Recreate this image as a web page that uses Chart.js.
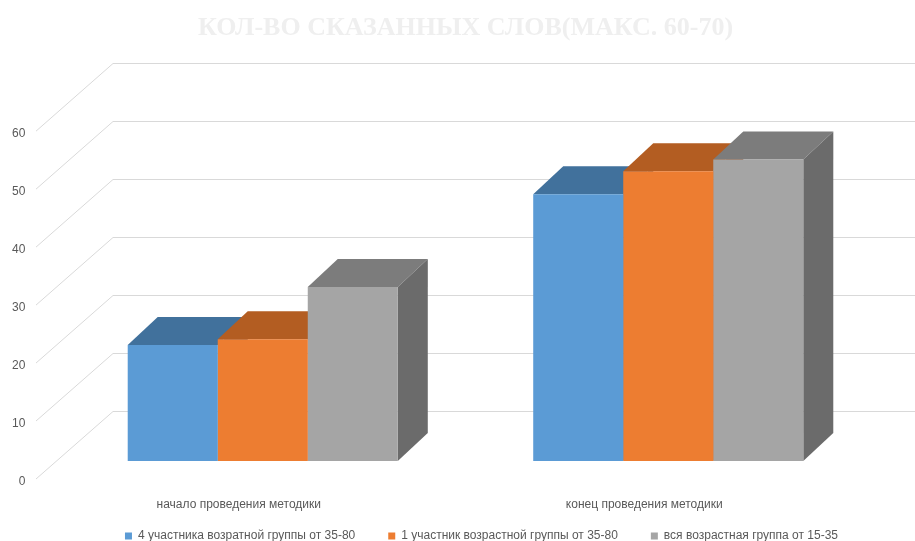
<!DOCTYPE html>
<html lang="ru">
<head>
<meta charset="utf-8">
<title>Кол-во сказанных слов</title>
<script src="https://cdn.jsdelivr.net/npm/chart.js@4.4.1/dist/chart.umd.min.js"></script>
<style>
  html, body { margin: 0; padding: 0; background: #ffffff; }
  #wrap { width: 915px; height: 541px; }
</style>
</head>
<body>
<div id="wrap"><canvas id="chart" width="915" height="541"></canvas></div>
<script>
// Data
const categories = ['начало проведения методики', 'конец проведения методики'];
const seriesNames = [
  '4 участника возратной группы от 35-80',
  '1 участник возрастной группы от 35-80',
  'вся возрастная группа от 15-35'
];
const group4of35to80 = [20, 46];
const one35to80 = [21, 50];
const whole15to35 = [30, 52];
const yTickValues = [0, 10, 20, 30, 40, 50, 60];
const yMax = 70;

// Styling
const frontColors = ['#5b9bd5', '#ed7d31', '#a5a5a5'];
const topColors   = ['#41719c', '#b35d22', '#7c7c7c'];
const sideColors  = ['#3a6791', '#a4531d', '#6b6b6b'];
const DEPTH_X = 30, DEPTH_Y = 28;      // bar extrusion
const LABEL_SHIFT = 20;                // front edge of the side wall, below bar plane
const WALL_SHIFT = 50;                 // back wall, above bar plane
const WALL_X_FRONT = -24, WALL_X_BACK = 53;
const LEGEND_DROP = 11;
const textGray = '#595959';
const sansFont = '"Liberation Sans", Arial, sans-serif';

const depthPlugin = {
  id: 'depth3d',
  afterLayout(chart) {
    // category labels hang below the floor edge; legend sits at the very bottom
    chart.scales.x.bottom = chart.height;
    chart.legend.top += LEGEND_DROP;
    chart.legend.bottom += LEGEND_DROP;
  },
  beforeDatasetsDraw(chart) {
    const { ctx, chartArea } = chart;
    const y = chart.scales.y;
    ctx.save();
    // gridlines: diagonal across the side wall, then along the back wall
    ctx.strokeStyle = '#d9d9d9';
    ctx.lineWidth = 1;
    yTickValues.forEach(v => {
      const p = y.getPixelForValue(v);
      const fy = p + LABEL_SHIFT - 2;
      const by = Math.round(p - WALL_SHIFT) + 0.5;
      ctx.beginPath();
      ctx.moveTo(chartArea.left + WALL_X_FRONT, fy);
      ctx.lineTo(chartArea.left + WALL_X_BACK, by);
      ctx.lineTo(chart.width, by);
      ctx.stroke();
    });
    // top and side faces of each bar
    chart.data.datasets.forEach((ds, i) => {
      const meta = chart.getDatasetMeta(i);
      meta.data.forEach(bar => {
        const { x, y: top, base, width } = bar.getProps(['x', 'y', 'base', 'width'], true);
        const l = x - width / 2, r = x + width / 2;
        ctx.fillStyle = topColors[i];
        ctx.beginPath();
        ctx.moveTo(l, top);
        ctx.lineTo(l + DEPTH_X, top - DEPTH_Y);
        ctx.lineTo(r + DEPTH_X, top - DEPTH_Y);
        ctx.lineTo(r, top);
        ctx.closePath();
        ctx.fill();
        ctx.fillStyle = sideColors[i];
        ctx.beginPath();
        ctx.moveTo(r, top);
        ctx.lineTo(r + DEPTH_X, top - DEPTH_Y);
        ctx.lineTo(r + DEPTH_X, base - DEPTH_Y);
        ctx.lineTo(r, base);
        ctx.closePath();
        ctx.fill();
      });
    });
    ctx.restore();
  }
};

const seriesValues = [group4of35to80, one35to80, whole15to35];

new Chart(document.getElementById('chart'), {
  type: 'bar',
  data: {
    labels: categories,
    datasets: seriesValues.map((vals, i) => ({
      label: seriesNames[i],
      data: vals,
      backgroundColor: frontColors[i],
      borderWidth: 0,
      categoryPercentage: 0.666,
      barPercentage: 1
    }))
  },
  options: {
    responsive: false,
    animation: false,
    events: [],
    layout: { padding: { left: 48, right: 0, top: 0, bottom: 0 } },
    plugins: {
      title: {
        display: true,
        text: 'КОЛ-ВО СКАЗАННЫХ СЛОВ(МАКС. 60-70)',
        color: '#efefef',
        fullSize: false,
        font: { family: '"Liberation Serif", "DejaVu Serif", serif', size: 26, weight: 'bold' },
        padding: { top: 13, bottom: 11 }
      },
      legend: {
        position: 'bottom',
        labels: {
          boxWidth: 7,
          boxHeight: 7,
          padding: 33,
          color: textGray,
          font: { family: sansFont, size: 12 }
        }
      },
      tooltip: { enabled: false }
    },
    scales: {
      x: {
        grid: { display: false },
        border: { display: false },
        ticks: {
          color: textGray,
          font: { family: sansFont, size: 12 },
          labelOffset: -24,
          padding: 28,
          maxRotation: 0
        },
        afterFit: s => { s.height = 25; }
      },
      y: {
        position: 'left',
        min: 0,
        max: yMax,
        grid: { display: false, drawTicks: false },
        border: { display: false },
        ticks: {
          color: textGray,
          font: { family: sansFont, size: 12 },
          labelOffset: LABEL_SHIFT + 1,
          mirror: true,
          crossAlign: 'far',
          padding: -48
        },
        afterBuildTicks: s => { s.ticks = yTickValues.map(v => ({ value: v })); },
        afterFit: s => { s.width = 12; }
      },
      yPad: {
        type: 'linear',
        position: 'right',
        grid: { display: false, drawTicks: false },
        border: { display: false },
        ticks: { display: false },
        afterFit: s => { s.width = 44; }
      }
    }
  },
  plugins: [depthPlugin]
});
</script>
</body>
</html>
